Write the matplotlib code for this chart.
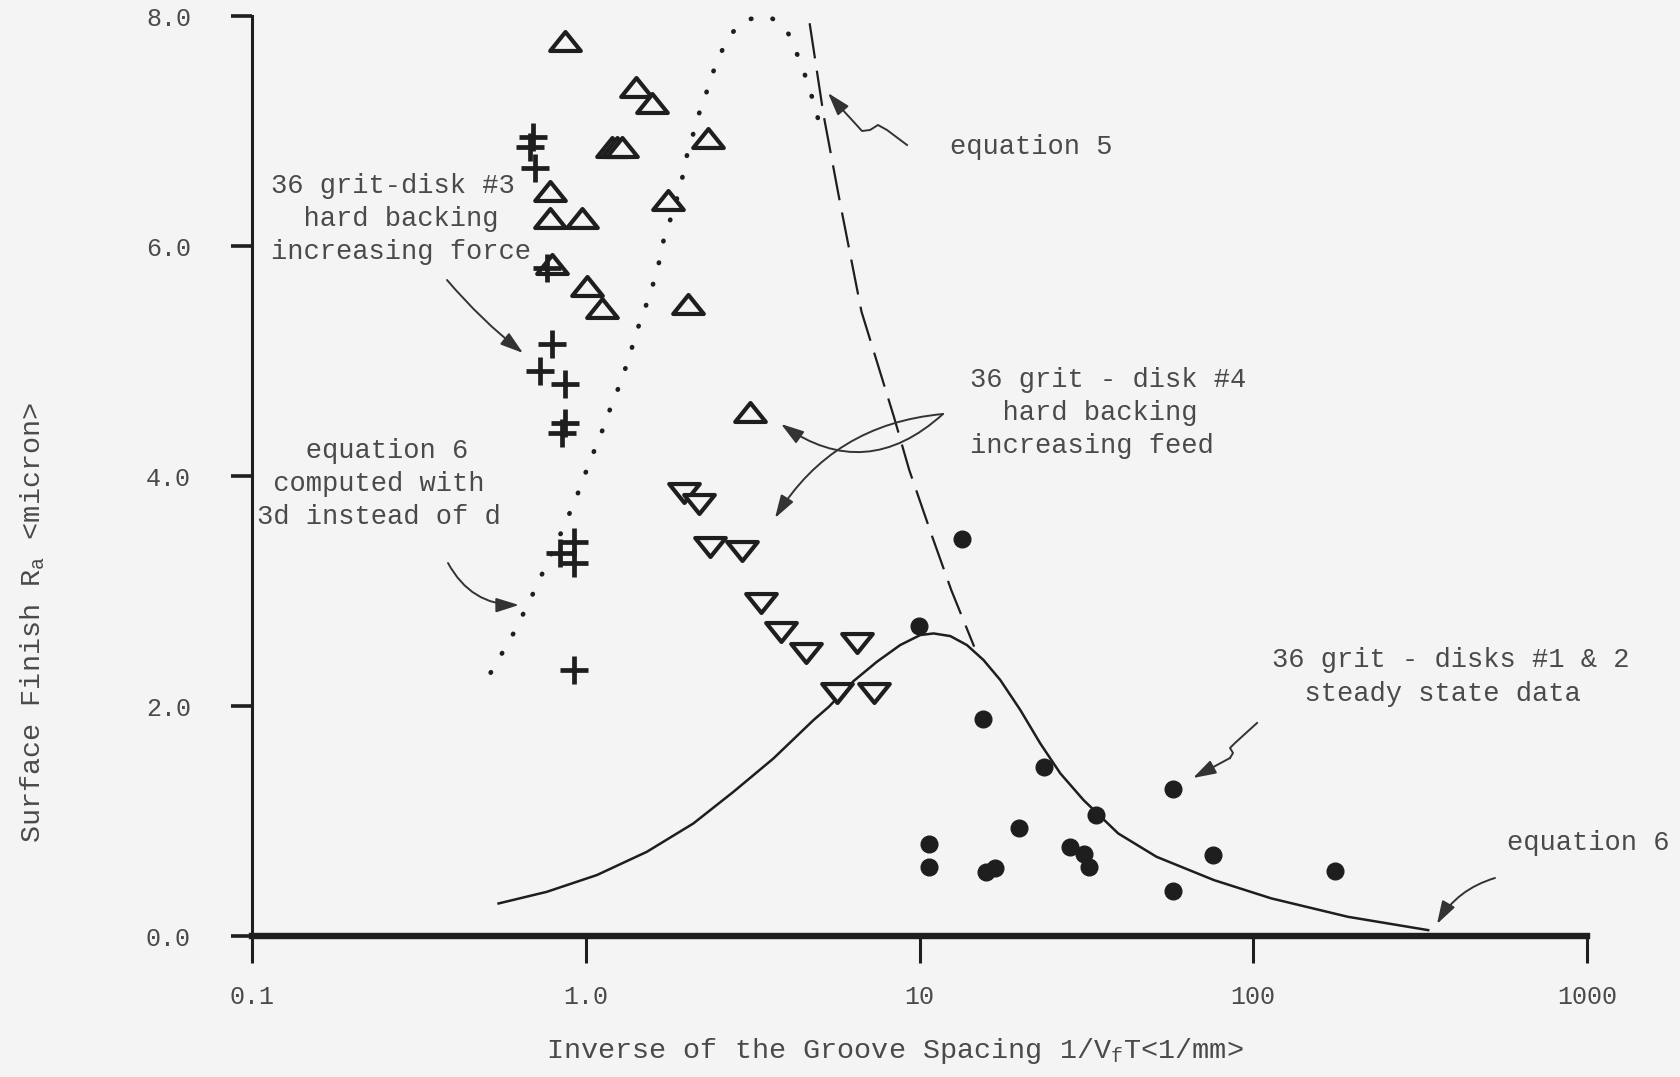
import matplotlib
matplotlib.use("Agg")
import matplotlib.pyplot as plt
from matplotlib.path import Path
from matplotlib.lines import Line2D
from matplotlib.ticker import NullLocator

# --- values (x = 1/VfT in 1/mm, y = Ra in micron) ---
up_tri_x = [0.867, 1.416, 1.578, 1.20, 1.24, 1.28, 2.33, 0.782, 1.762,
            0.782, 0.973, 0.791, 1.008, 1.117, 2.03, 3.11]
up_tri_y = [7.78, 7.38, 7.24, 6.86, 6.86, 6.86, 6.94, 6.48, 6.40,
            6.24, 6.24, 5.84, 5.65, 5.46, 5.50, 4.56]

down_tri_x = [1.963, 2.177, 2.359, 2.935, 3.349, 3.843, 4.575, 6.493, 5.656, 7.282]
down_tri_y = [3.85, 3.76, 3.385, 3.35, 2.90, 2.646, 2.458, 2.55, 2.11, 2.11]

cross_x = [0.697, 0.679, 0.705, 0.765, 0.791, 0.731, 0.867, 0.867, 0.848,
           0.919, 0.838, 0.919, 0.925]
cross_y = [6.95, 6.86, 6.68, 5.81, 5.15, 4.91, 4.80, 4.46, 4.37,
           3.43, 3.33, 3.24, 2.31]

dot_x = [13.44, 9.97, 15.50, 23.53, 57.4, 33.8, 19.83, 10.71, 10.66, 28.3,
         31.2, 32.3, 15.83, 16.83, 75.8, 57.4, 176.1]
dot_y = [3.45, 2.70, 1.89, 1.47, 1.275, 1.05, 0.94, 0.80, 0.60, 0.776,
         0.712, 0.602, 0.558, 0.587, 0.704, 0.393, 0.567]

# equation 6 (solid)
eq6_x = [0.548, 0.764, 1.080, 1.524, 2.102, 2.771, 3.651, 4.815, 5.349, 6.346,
         7.456, 8.753, 10.05, 11.02, 12.37, 13.87, 15.56, 17.46, 20.05, 23.0,
         26.42, 31.01, 39.38, 51.29, 76.26, 113.3, 192.1, 334.3]
eq6_y = [0.283, 0.384, 0.530, 0.732, 0.979, 1.254, 1.544, 1.878, 1.993, 2.217,
         2.385, 2.530, 2.617, 2.631, 2.608, 2.530, 2.399, 2.226, 1.965, 1.675,
         1.414, 1.182, 0.892, 0.689, 0.486, 0.327, 0.167, 0.051]

# equation 6 computed with 3d instead of d (dotted)
eq6_3d_x = [0.519, 0.600, 0.670, 0.739, 0.867, 0.947, 1.026, 1.110, 1.192, 1.277,
            1.352, 1.423, 1.514, 1.589, 1.660, 1.710, 1.791, 1.918, 2.008, 2.102,
            2.177, 2.279, 2.370, 2.489, 2.629, 2.804, 3.039, 3.332, 3.611, 3.869,
            4.050, 4.225, 4.413, 4.598, 4.810, 5.003]
eq6_3d_y = [2.290, 2.602, 2.878, 3.144, 3.582, 3.849, 4.118, 4.362, 4.609, 4.826,
            5.043, 5.262, 5.479, 5.662, 5.864, 6.047, 6.227, 6.502, 6.783, 6.981,
            7.139, 7.299, 7.458, 7.624, 7.769, 7.887, 7.966, 7.995, 7.980, 7.923,
            7.844, 7.719, 7.589, 7.438, 7.255, 7.072]

# equation 5 (dashed)
eq5_x = [4.686, 5.159, 5.759, 6.702, 8.379, 9.316, 10.92, 12.45, 14.58]
eq5_y = [7.937, 7.139, 6.400, 5.429, 4.516, 4.052, 3.472, 3.008, 2.516]

x_ticks = [0.1, 1, 10, 100, 1000]
x_tick_labels = ["0.1", "1.0", "10", "100", "1000"]
y_ticks = [0, 2, 4, 6, 8]
y_tick_labels = ["0.0", "2.0", "4.0", "6.0", "8.0"]

BG = "#f4f4f4"
INK = "#1e1e1e"
TXT = "#4a4a4a"

plt.rcParams["font.family"] = ["Liberation Mono", "DejaVu Sans Mono"]
plt.rcParams["mathtext.fontset"] = "custom"
plt.rcParams["mathtext.rm"] = "Liberation Mono"

W, H = 1681, 1077
fig = plt.figure(figsize=(W / 100, H / 100), dpi=100, facecolor=BG)
ax = fig.add_axes([252 / W, 1 - 936 / H, (1587 - 252) / W, (936 - 16) / H])
ax.set_facecolor(BG)


def ff(x, y):
    # pixel position (top-left origin) -> figure fraction
    return (x / W, 1 - y / H)


# --- marks ---
tri_up = Path([(0, 0.62), (-1, -0.62), (1, -0.62), (0, 0.62)],
              [Path.MOVETO, Path.LINETO, Path.LINETO, Path.CLOSEPOLY])
tri_down = Path([(0, -0.62), (-1, 0.62), (1, 0.62), (0, -0.62)],
                [Path.MOVETO, Path.LINETO, Path.LINETO, Path.CLOSEPOLY])

ax.plot(eq6_x, eq6_y, color=INK, lw=1.8, zorder=2)
ax.plot(eq6_3d_x, eq6_3d_y, color=INK, lw=3.4, linestyle=(0, (0.1, 4.6)),
        dash_capstyle="round", zorder=2)
ax.plot(eq5_x, eq5_y, color=INK, lw=1.6, linestyle=(0, (16, 5.6)), zorder=2)

ax.plot(up_tri_x, up_tri_y, linestyle="none", marker=tri_up, markersize=22,
        markeredgewidth=3, markeredgecolor=INK, markerfacecolor=BG, zorder=3)
ax.plot(down_tri_x, down_tri_y, linestyle="none", marker=tri_down, markersize=22,
        markeredgewidth=3, markeredgecolor=INK, markerfacecolor=BG, zorder=3)
ax.plot(cross_x, cross_y, linestyle="none", marker="+", markersize=20,
        markeredgewidth=3.4, color=INK, zorder=3)
ax.plot(dot_x, dot_y, linestyle="none", marker="o", markersize=12,
        color=INK, zorder=3)

# --- axes ---
ax.set_xscale("log")
ax.set_xlim(0.1, 1000)
ax.set_ylim(0, 8)
ax.set_xticks(x_ticks)
ax.set_xticklabels(x_tick_labels)
ax.xaxis.set_minor_locator(NullLocator())
ax.set_yticks(y_ticks)
ax.set_yticklabels(y_tick_labels)
for s in ("top", "right"):
    ax.spines[s].set_visible(False)
ax.spines["left"].set_linewidth(2.2)
ax.spines["bottom"].set_linewidth(4.6)
ax.spines["left"].set_color(INK)
ax.spines["bottom"].set_color(INK)
ax.tick_params(axis="x", direction="out", length=19.5, width=2.2, pad=16,
               labelsize=18, colors=INK, labelcolor=TXT)
ax.tick_params(axis="y", direction="out", length=15, width=2.6, pad=29,
               labelsize=18, colors=INK, labelcolor=TXT)

fig.text(*ff(895, 1051), r"Inverse of the Groove Spacing 1/V$_{\mathrm{f}}$T<1/mm>",
         ha="center", va="center", fontsize=20.5, color=TXT)
fig.text(*ff(33, 622), r"Surface Finish R$_{\mathrm{a}}$ <micron>",
         ha="center", va="center", rotation=90, fontsize=20.5, color=TXT)

# --- annotations ---
FS = 19.5
LS = 1.36
fig.text(*ff(271, 219), "36 grit-disk #3\n  hard backing\nincreasing force",
         ha="left", va="center", fontsize=FS, color=TXT, linespacing=LS)
fig.text(*ff(257, 484), "   equation 6\n computed with\n3d instead of d",
         ha="left", va="center", fontsize=FS, color=TXT, linespacing=LS)
fig.text(*ff(950, 147), "equation 5", ha="left", va="center", fontsize=FS, color=TXT)
fig.text(*ff(970, 413), "36 grit - disk #4\n  hard backing\nincreasing feed",
         ha="left", va="center", fontsize=FS, color=TXT, linespacing=LS)
fig.text(*ff(1272, 677), "36 grit - disks #1 & 2\n  steady state data",
         ha="left", va="center", fontsize=FS, color=TXT, linespacing=LS)
fig.text(*ff(1507, 843), "equation 6", ha="left", va="center", fontsize=FS, color=TXT)

ARROW = "-|>,head_length=0.7,head_width=0.22"


def arrow(start, end, rad=0.0):
    ax.annotate("", xy=ff(*end), xytext=ff(*start), xycoords="figure fraction",
                textcoords="figure fraction", annotation_clip=False,
                arrowprops=dict(arrowstyle=ARROW, color="#333333", lw=1.4,
                                shrinkA=0, shrinkB=0, mutation_scale=20,
                                connectionstyle=f"arc3,rad={rad}"))


def squiggle(points):
    xs = [p[0] / W for p in points]
    ys = [1 - p[1] / H for p in points]
    fig.add_artist(Line2D(xs[:-1], ys[:-1], transform=fig.transFigure,
                          color="#333333", lw=1.4, solid_joinstyle="round"))
    arrow(points[-2], points[-1])


arrow((447, 280), (523, 353), rad=0.05)
arrow((448, 563), (519, 605), rad=0.3)
arrow((943, 414), (781, 424), rad=-0.4)
arrow((943, 414), (775, 518), rad=0.25)
arrow((1495, 878), (1437, 924), rad=0.2)
squiggle([(907, 145), (887, 130), (878, 125), (870, 130), (862, 131),
          (852, 120), (840, 107), (828, 93)])
squiggle([(1257, 723), (1235, 743), (1230, 748), (1233, 753), (1230, 758),
          (1193, 778)])

fig.savefig("out.png", dpi=100, facecolor=BG)
